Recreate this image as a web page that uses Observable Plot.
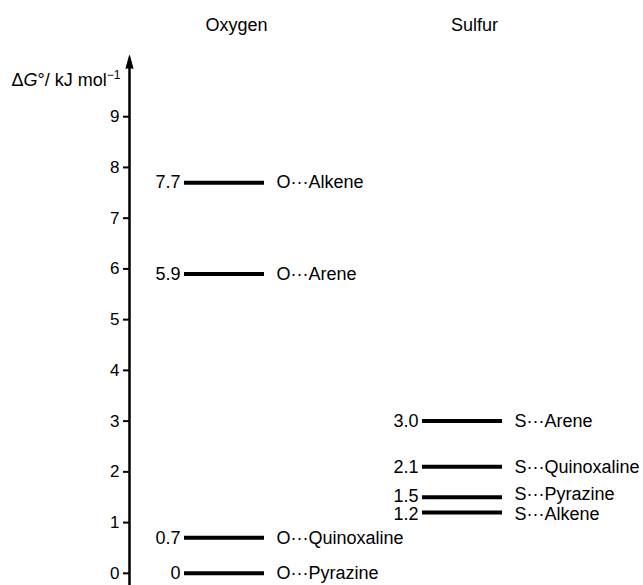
<!DOCTYPE html>
<html><head><meta charset="utf-8">
<script src="https://cdn.jsdelivr.net/npm/d3@7"></script>
<script src="https://cdn.jsdelivr.net/npm/@observablehq/plot@0.6"></script>
<style>body{margin:0;background:#fff;}</style>
</head><body><div id="chart"></div>
<script>
const groups = ["Oxygen", "Sulfur"];
const oxygenNames = ["O···Alkene", "O···Arene", "O···Quinoxaline", "O···Pyrazine"];
const oxygenValues = [7.7, 5.9, 0.7, 0];
const oxygenValueLabels = ["7.7", "5.9", "0.7", "0"];
const sulfurNames = ["S···Arene", "S···Quinoxaline", "S···Pyrazine", "S···Alkene"];
const sulfurValues = [3.0, 2.1, 1.5, 1.2];
const sulfurValueLabels = ["3.0", "2.1", "1.5", "1.2"];
const yTicks = [0, 1, 2, 3, 4, 5, 6, 7, 8, 9];
const axisLabel = "ΔG°/ kJ mol−1";

const data = [
  ...oxygenNames.map((n, i) => ({group: "Oxygen", name: n, value: oxygenValues[i], label: oxygenValueLabels[i]})),
  ...sulfurNames.map((n, i) => ({group: "Sulfur", name: n, value: sulfurValues[i], label: sulfurValueLabels[i]}))
];
// labels of the two closely spaced sulfur levels are nudged apart (as in the original figure)
const raised = d => d.name === "S···Pyrazine";
const lowered = d => d.name === "S···Alkene";
const normal = d => !raised(d) && !lowered(d);

const chart = Plot.plot({
  width: 643, height: 585,
  marginLeft: 129, marginTop: 68, marginBottom: 0, marginRight: 0,
  style: {fontFamily: "'Liberation Sans', Arial, sans-serif", fontSize: "18px", background: "white", color: "black"},
  x: {type: "band", domain: groups, range: [184, 502.5], paddingInner: 0.665, paddingOuter: 0, axis: null},
  y: {domain: [-0.24, 9.95], axis: null},
  marks: [
    Plot.frame({anchor: "left", strokeWidth: 2.5, stroke: "black"}),
    Plot.vector([0], {frameAnchor: "top-left", shape: "spike", length: 13, r: 3.5, anchor: "start", fill: "black", stroke: "black", strokeWidth: 1}),
    Plot.axisY(yTicks, {anchor: "left", tickSize: 6, tickPadding: 4, strokeWidth: 2, fontSize: 17, label: null, tickFormat: d => String(d)}),
    Plot.tickY(data, {x: "group", y: "value", strokeWidth: 4, stroke: "black"}),
    Plot.text(data, {filter: normal, x: "group", y: "value", text: "label", textAnchor: "end", dx: -44, fill: "black"}),
    Plot.text(data, {filter: normal, x: "group", y: "value", text: "name", textAnchor: "start", dx: 52, fill: "black"}),
    Plot.text(data, {filter: raised, x: "group", y: "value", text: "label", textAnchor: "end", dx: -44, dy: -1, fill: "black"}),
    Plot.text(data, {filter: raised, x: "group", y: "value", text: "name", textAnchor: "start", dx: 52, dy: -3, fill: "black"}),
    Plot.text(data, {filter: lowered, x: "group", y: "value", text: "label", textAnchor: "end", dx: -44, dy: 2, fill: "black"}),
    Plot.text(data, {filter: lowered, x: "group", y: "value", text: "name", textAnchor: "start", dx: 52, dy: 2, fill: "black"}),
    Plot.text(groups, {x: d => d, text: d => d, frameAnchor: "top", lineAnchor: "middle", dy: -43, dx: 12, fill: "black"}),
    Plot.text([axisLabel], {frameAnchor: "top-left", lineAnchor: "middle", text: d => d, textAnchor: "end", dx: -9, dy: 12, fill: "black"})
  ]
});

d3.select(chart).selectAll("text").filter(function () { return this.textContent === axisLabel; }).each(function () {
  const t = d3.select(this);
  t.text("");
  t.append("tspan").text("Δ");
  t.append("tspan").attr("font-style", "italic").text("G");
  t.append("tspan").text("°/ kJ mol");
  t.append("tspan").attr("font-size", "12px").attr("dy", "-7").text("−1");
});

document.getElementById("chart").appendChild(chart);
</script>
</body></html>
